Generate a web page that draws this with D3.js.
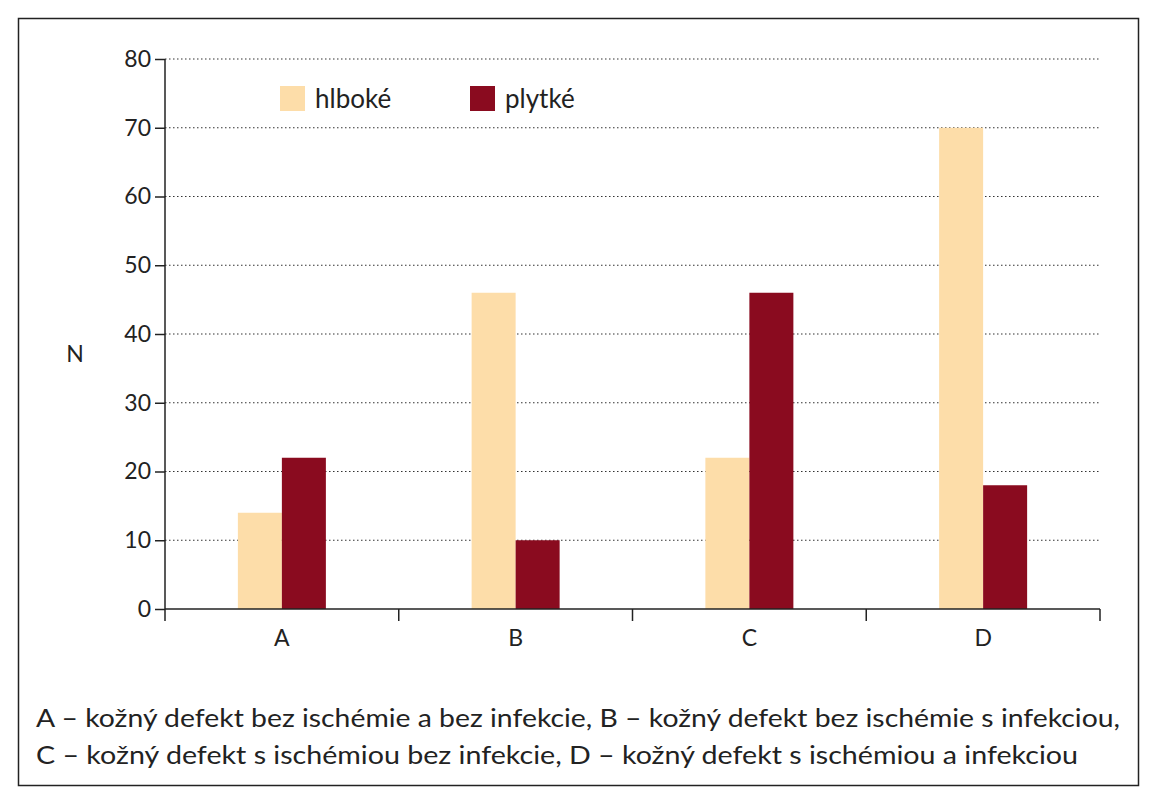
<!DOCTYPE html>
<html><head><meta charset="utf-8">
<script src="https://cdn.jsdelivr.net/npm/d3@7"></script>
<style>body{margin:0;background:#fff}</style></head>
<body><svg id="c" width="1157" height="800"></svg>
<script>
const categories = ["A","B","C","D"];
const seriesNames = ["hlboké","plytké"];
const hlboke = [14,46,22,70];
const plytke = [22,10,46,18];
const yTicks = [0,10,20,30,40,50,60,70,80];
const colors = ["#FDDDA9","#8A0B1F"];
const note1 = "A – kožný defekt bez ischémie a bez infekcie, B – kožný defekt bez ischémie s infekciou,";
const note2 = "C – kožný defekt s ischémiou bez infekcie, D – kožný defekt s ischémiou a infekciou";

const svg = d3.select("#c");
const font = "Lato, 'Open Sans', sans-serif";
svg.append("rect").attr("x",18.5).attr("y",18.5).attr("width",1120).attr("height",767)
  .attr("fill","none").attr("stroke","#222").attr("stroke-width",1.5);

const x0 = 165, x1 = 1100, yb = 609, yt = 59;
const x = d3.scaleBand().domain(categories).range([x0,x1]);
const xs = d3.scaleBand().domain(seriesNames).range([0,88]);
const y = d3.scaleLinear().domain([0,80]).range([yb,yt]);

svg.append("g").selectAll("line").data(yTicks.slice(1)).join("line")
  .attr("x1",x0).attr("x2",x1).attr("y1",d=>y(d)).attr("y2",d=>y(d))
  .attr("stroke","#333").attr("stroke-width",1.2).attr("stroke-dasharray","1.5,2.5");

const data = categories.map((c,i)=>({c, v:[hlboke[i],plytke[i]]}));
const g = svg.append("g");
data.forEach(d=>{
  seriesNames.forEach((s,j)=>{
    g.append("rect").attr("x",x(d.c)+x.bandwidth()/2-44+xs(s)).attr("width",xs.bandwidth())
      .attr("y",y(d.v[j])).attr("height",yb-y(d.v[j])).attr("fill",colors[j]);
  });
});

const ya = svg.append("g").attr("transform",`translate(${x0},0)`)
  .call(d3.axisLeft(y).tickValues(yTicks).tickSize(10).tickPadding(4));
ya.select(".domain").remove();
ya.selectAll("line").attr("stroke","#222").attr("stroke-width",1.5);
ya.selectAll("text").attr("font-family",font).attr("font-size",23).attr("fill","#222");
svg.append("line").attr("x1",x0).attr("x2",x0).attr("y1",yt).attr("y2",621).attr("stroke","#222").attr("stroke-width",1.5);

svg.append("line").attr("x1",x0).attr("x2",x1).attr("y1",yb).attr("y2",yb).attr("stroke","#222").attr("stroke-width",1.5);
svg.append("g").selectAll("line").data(categories).join("line")
  .attr("x1",(d,i)=>x0+(i+1)*x.bandwidth()).attr("x2",(d,i)=>x0+(i+1)*x.bandwidth())
  .attr("y1",yb).attr("y2",621).attr("stroke","#222").attr("stroke-width",1.5);
svg.append("g").selectAll("text").data(categories).join("text")
  .attr("x",d=>x(d)+x.bandwidth()/2).attr("y",646).attr("text-anchor","middle")
  .attr("font-family",font).attr("font-size",23).attr("fill","#222").text(d=>d);

svg.append("text").attr("x",75).attr("y",362).attr("text-anchor","middle")
  .attr("font-family",font).attr("font-size",23).attr("fill","#222").text("N");

const lx = [280,470];
seriesNames.forEach((s,i)=>{
  svg.append("rect").attr("x",lx[i]).attr("y",86).attr("width",25).attr("height",25).attr("fill",colors[i]);
  svg.append("text").attr("x",lx[i]+35).attr("y",108).attr("font-family",font).attr("font-size",26)
    .attr("fill","#222").text(s);
});

svg.append("text").attr("x",36).attr("y",727).attr("font-family",font).attr("font-size",25)
  .attr("textLength",1084).attr("lengthAdjust","spacingAndGlyphs").attr("fill","#222").text(note1);
svg.append("text").attr("x",36).attr("y",764).attr("font-family",font).attr("font-size",25)
  .attr("textLength",1042).attr("lengthAdjust","spacingAndGlyphs").attr("fill","#222").text(note2);
</script></body></html>
